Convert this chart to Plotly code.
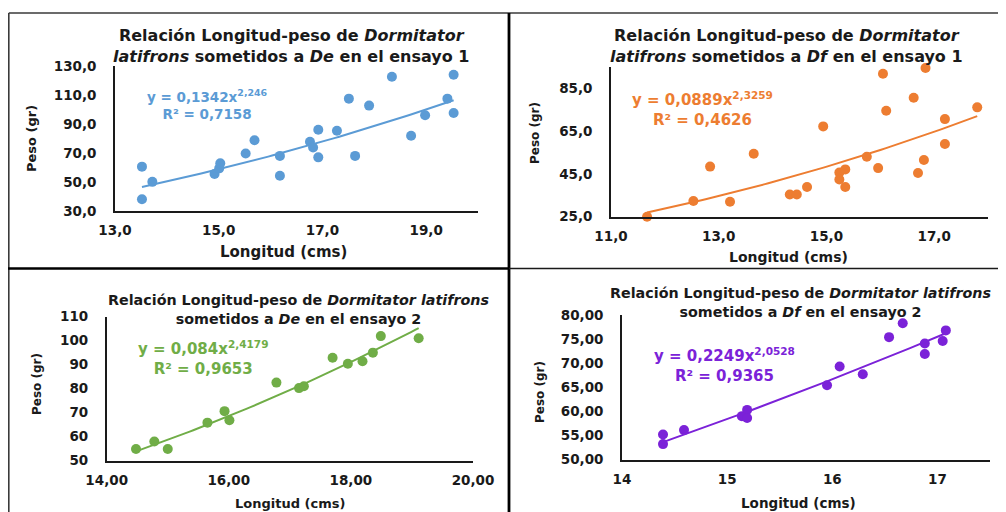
import numpy as np
import plotly.graph_objects as go

# The page body has an 8px margin, so the figure is drawn 8px in from the window's corner.
OFF = 8
W, H = 1006 - OFF, 512 - OFF

# ---------------- data ----------------
# Panel 1: De, ensayo 1
long_de1 = [13.52, 13.52, 13.72, 14.92, 15.01, 15.03, 15.52, 15.69, 16.18, 16.18, 16.76, 16.82,
            16.92, 16.92, 17.28, 17.51, 17.63, 17.90, 18.34, 18.71, 18.98, 19.41, 19.53, 19.53]
peso_de1 = [60.6, 38.1, 50.1, 55.5, 59.4, 62.9, 69.6, 78.8, 68.0, 54.3, 77.7, 73.8,
            86.0, 67.0, 85.3, 107.5, 68.0, 102.7, 122.6, 81.9, 96.0, 107.5, 124.0, 97.6]
coef_de1 = (0.1342, 2.246)

# Panel 2: Df, ensayo 1
long_df1 = [11.67, 12.53, 12.84, 13.21, 13.65, 14.32, 14.45, 14.64, 14.94, 15.24, 15.24, 15.35,
            15.35, 15.75, 15.96, 16.05, 16.11, 16.62, 16.70, 16.81, 16.84, 17.20, 17.20, 17.80]
peso_df1 = [25.0, 32.3, 48.4, 32.0, 54.4, 35.4, 35.4, 38.9, 67.2, 45.6, 42.4, 47.1,
            38.9, 53.0, 47.7, 91.8, 74.5, 80.6, 45.4, 51.5, 94.5, 70.6, 59.0, 76.1]
coef_df1 = (0.0889, 2.3259)

# Panel 3: De, ensayo 2
long_de2 = [14.48, 14.78, 15.00, 15.65, 15.93, 16.01, 16.78, 17.15, 17.23, 17.70, 17.95, 18.19,
            18.36, 18.49, 19.11]
peso_de2 = [54.8, 57.9, 54.8, 65.8, 70.6, 66.8, 82.5, 80.2, 81.0, 92.9, 90.4, 91.4,
            95.0, 101.9, 101.0]
coef_de2 = (0.084, 2.4179)

# Panel 4: Df, ensayo 2
long_df2 = [14.39, 14.39, 14.59, 15.14, 15.19, 15.19, 15.95, 16.07, 16.29, 16.54, 16.67, 16.88,
            16.88, 17.05, 17.08]
peso_df2 = [55.2, 53.2, 56.1, 59.0, 60.3, 58.6, 65.4, 69.3, 67.7, 75.4, 78.3, 74.1,
            71.9, 74.6, 76.8]
coef_df2 = (0.2249, 2.0528)

# tick values
xt1 = [13, 15, 17, 19]; yt1 = [30, 50, 70, 90, 110, 130]
xt2 = [11, 13, 15, 17]; yt2 = [25, 45, 65, 85]
xt3 = [14, 16, 18, 20]; yt3 = [50, 60, 70, 80, 90, 100, 110]
xt4 = [14, 15, 16, 17]; yt4 = [50, 55, 60, 65, 70, 75, 80]

titles = [
    "Relación Longitud-peso de <i>Dormitator</i><br><i>latifrons</i> sometidos a <i>De</i> en el ensayo 1",
    "Relación Longitud-peso de <i>Dormitator</i><br><i>latifrons</i> sometidos a <i>Df</i> en el ensayo 1",
    "Relación Longitud-peso de <i>Dormitator latifrons</i><br>sometidos a <i>De</i> en el ensayo 2",
    "Relación Longitud-peso de <i>Dormitator latifrons</i><br>sometidos a <i>Df</i> en el ensayo 2",
]
equations = [
    "y = 0,1342x<sup>2,246</sup><br>R² = 0,7158",
    "y = 0,0889x<sup>2,3259</sup><br>R² = 0,4626",
    "y = 0,084x<sup>2,4179</sup><br>R² = 0,9653",
    "y = 0,2249x<sup>2,0528</sup><br>R² = 0,9365",
]
colors = ["#5B9BD5", "#ED7D31", "#70AD47", "#7B22D8"]

FONT = "DejaVu Sans"
INK = "#1a1a1a"

def px(x):
    return (x - OFF) / W

def py(y):
    return 1 - (y - OFF) / H

panels = [
    dict(x=long_de1, y=peso_de1, coef=coef_de1, xr=[13, 20], yr=[30, 130], xt=xt1, yt=yt1,
         xf=".1f", yf=".1f", xd=[115, 478], yd=[211, 66],
         title=(291, 46, 16), eq=(207, 104, 13.5), ylab=(32, 139, 13), xlab=(283, 252, 15)),
    dict(x=long_df1, y=peso_df1, coef=coef_df1, xr=[11, 18], yr=[25, 95], xt=xt2, yt=yt2,
         xf=".1f", yf=".1f", xd=[611, 988], yd=[216.7, 66.9],
         title=(786, 46, 16), eq=(702, 109, 15), ylab=(535, 133, 12), xlab=(788, 257, 14)),
    dict(x=long_de2, y=peso_de2, coef=coef_de2, xr=[14, 20], yr=[50, 110], xt=xt3, yt=yt3,
         xf=".2f", yf="d", xd=[106.7, 473], yd=[460.5, 316.7],
         title=(298, 309, 14.3), eq=(203, 358, 15), ylab=(37, 384, 12), xlab=(290, 503, 13)),
    dict(x=long_df2, y=peso_df2, coef=coef_df2, xr=[14, 17.5], yr=[50, 80], xt=xt4, yt=yt4,
         xf=".0f", yf=".2f", xd=[622, 990], yd=[459.5, 315],
         title=(800, 302.5, 14.3), eq=(724, 364.5, 15), ylab=(540, 392, 12), xlab=(798, 503, 13.5)),
]

fig = go.Figure()
annotations = []
layout_axes = {}

for i, p in enumerate(panels):
    n = "" if i == 0 else str(i + 1)
    xa, ya = "x" + n, "y" + n
    c = colors[i]
    a, b = p["coef"]
    xs = np.linspace(min(p["x"]), max(p["x"]), 80)
    fig.add_trace(go.Scatter(x=xs, y=a * xs ** b, mode="lines", line=dict(color=c, width=2),
                             xaxis=xa, yaxis=ya, showlegend=False, hoverinfo="skip", cliponaxis=False))
    fig.add_trace(go.Scatter(x=p["x"], y=p["y"], mode="markers",
                             marker=dict(color=c, size=10, line=dict(width=0)),
                             xaxis=xa, yaxis=ya, showlegend=False, cliponaxis=False))
    common = dict(showline=True, linecolor=INK, linewidth=1.6, showgrid=False, zeroline=False,
                  ticks="", tickfont=dict(family=FONT, size=13.5, color=INK, weight="bold"),
                  fixedrange=True, automargin=False)
    layout_axes["xaxis" + n] = dict(common, domain=[px(p["xd"][0]), px(p["xd"][1])], range=p["xr"],
                                    tickvals=p["xt"], tickformat=p["xf"], anchor=ya,
                                    ticklabelstandoff=6)
    layout_axes["yaxis" + n] = dict(common, domain=[py(p["yd"][0]), py(p["yd"][1])], range=p["yr"],
                                    tickvals=p["yt"], tickformat=p["yf"], anchor=xa,
                                    ticklabelstandoff=14)
    tx, ty, ts = p["title"]
    annotations.append(dict(text="<b>" + titles[i] + "</b>", x=px(tx), y=py(ty), xref="paper",
                            yref="paper", showarrow=False, xanchor="center", yanchor="middle",
                            align="center", font=dict(family=FONT, size=ts, color=INK)))
    ex, ey, es = p["eq"]
    annotations.append(dict(text="<b>" + equations[i] + "</b>", x=px(ex), y=py(ey), xref="paper",
                            yref="paper", showarrow=False, xanchor="center", yanchor="middle",
                            align="center", font=dict(family=FONT, size=es, color=c)))
    lx, ly, ls = p["ylab"]
    annotations.append(dict(text="<b>Peso (gr)</b>", x=px(lx), y=py(ly), xref="paper", yref="paper",
                            showarrow=False, textangle=-90, xanchor="center", yanchor="middle",
                            font=dict(family=FONT, size=ls, color=INK)))
    lx, ly, ls = p["xlab"]
    annotations.append(dict(text="<b>Longitud (cms)</b>", x=px(lx), y=py(ly), xref="paper",
                            yref="paper", showarrow=False, xanchor="center", yanchor="middle",
                            font=dict(family=FONT, size=ls, color=INK)))

def line(x0, y0, x1, y1, w, col):
    return dict(type="line", xref="paper", yref="paper", x0=px(x0), y0=py(y0), x1=px(x1), y1=py(y1),
                line=dict(color=col, width=w))

shapes = [
    line(8.8, 13, 1006, 13, 1.6, "#3a3a3a"),
    line(8.8, 13, 8.8, 512, 1.6, "#3a3a3a"),
    line(509, 13, 509, 512, 2.8, "#000000"),
    line(8, 268.5, 509, 268.5, 2.4, "#000000"),
    line(509, 268.5, 1006, 268.5, 1.5, INK),
]

fig.update_layout(width=W, height=H, autosize=False,
                  margin=dict(l=0, r=0, t=0, b=0, pad=0, autoexpand=False),
                  paper_bgcolor="white", plot_bgcolor="white", separators=",.",
                  annotations=annotations, shapes=shapes, showlegend=False, **layout_axes)

fig.write_html("out.html")
